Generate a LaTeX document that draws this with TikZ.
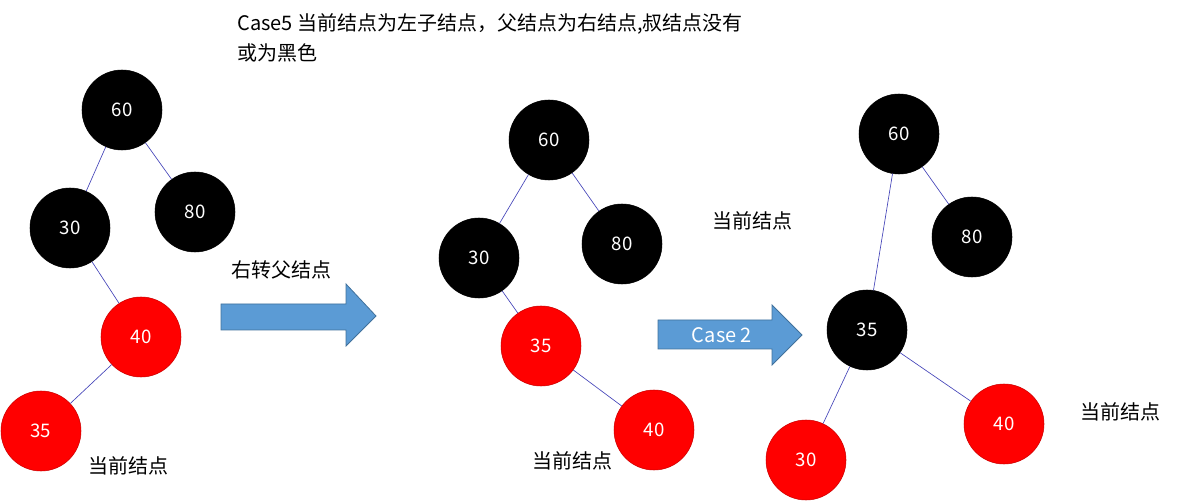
\documentclass[tikz,border=0pt]{standalone}
\usepackage{fontspec}
\setmainfont{Noto Sans CJK SC}
\begin{document}
\begin{tikzpicture}[x=0.75pt,y=-0.75pt,
  bn/.style={circle,draw=black,fill=black,text=white,minimum size=60pt,inner sep=0pt,font=\fontsize{14}{16}\selectfont},
  rn/.style={circle,draw=red!80!black,fill=red,text=white,minimum size=60pt,inner sep=0pt,font=\fontsize{14}{16}\selectfont},
  ed/.style={draw=blue!45!gray,line width=0.5pt},
  lbl/.style={font=\fontsize{15}{18}\selectfont,inner sep=0pt},
  barrow/.style={fill=arrowblue,draw=arrowedge,line width=0.6pt}]
\definecolor{arrowblue}{HTML}{5B9BD5}
\definecolor{arrowedge}{HTML}{41719C}
\useasboundingbox (0,0) rectangle (1189,502);
\node[lbl,anchor=west] (t1) at (237,24) {Case5 当前结点为左子结点，父结点为右结点,叔结点没有};
\node[lbl,anchor=west] (t2) at (237,53) {或为黑色};
% left tree
\node[bn] (a60) at (122,110) {60};
\node[bn] (a30) at (70,228) {30};
\node[bn] (a80) at (195,212) {80};
\node[rn] (a40) at (141,337) {40};
\node[rn] (a35) at (41,431) {35};
\draw[ed] (a60)--(a30); \draw[ed] (a60)--(a80); \draw[ed] (a30)--(a40); \draw[ed] (a40)--(a35);
\node[lbl] (l1) at (128,466) {当前结点};
% middle tree
\node[bn] (b60) at (549,140) {60};
\node[bn] (b30) at (479,258) {30};
\node[bn] (b80) at (622,244) {80};
\node[rn] (b35) at (541,346) {35};
\node[rn] (b40) at (654,430) {40};
\draw[ed] (b60)--(b30); \draw[ed] (b60)--(b80); \draw[ed] (b30)--(b35); \draw[ed] (b35)--(b40);
\node[lbl] (l2) at (572,461) {当前结点};
\node[lbl] (l3) at (752,221) {当前结点};
% right tree
\node[bn] (c60) at (899,134) {60};
\node[bn] (c80) at (972,237) {80};
\node[bn] (c35) at (867,330) {35};
\node[rn] (c30) at (806,460) {30};
\node[rn] (c40) at (1004,424) {40};
\draw[ed] (c60)--(c80); \draw[ed] (c60)--(c35); \draw[ed] (c35)--(c30); \draw[ed] (c35)--(c40);
\node[lbl] (l4) at (1120,412) {当前结点};
% arrows
\draw[barrow] (221,304)--(346,304)--(346,284)--(376,316)--(346,346)--(346,330)--(221,330)--cycle;
\node[lbl] (r1) at (281,270) {右转父结点};
\draw[barrow] (658,320)--(772,320)--(772,305)--(802,335)--(772,365)--(772,349)--(658,349)--cycle;
\node[lbl,text=white] (r2) at (722,335) {Case 2};
\end{tikzpicture}
\end{document}
